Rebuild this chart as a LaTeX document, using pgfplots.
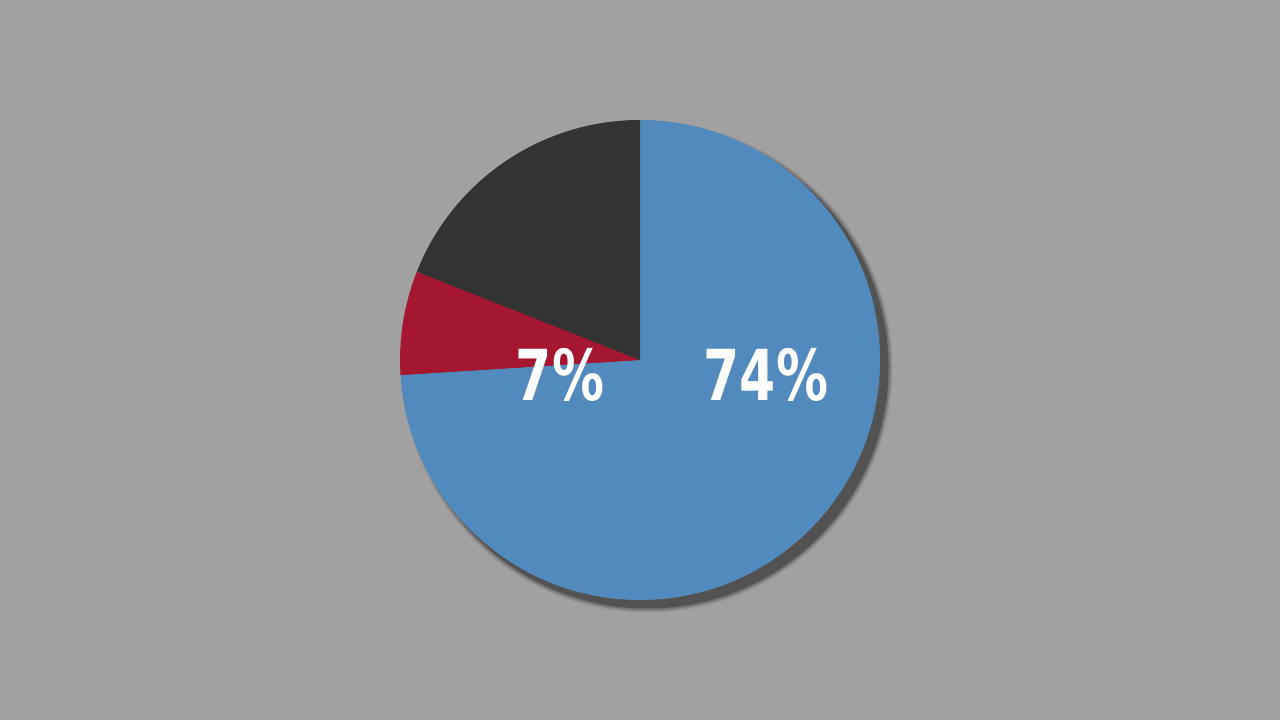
\documentclass[border=0pt]{standalone}
\usepackage{pgfplots}
\pgfplotsset{compat=1.18}
\usepackage{fontspec}
\setmainfont{DejaVu Sans}
\newfontfamily\labelfont[FakeStretch=0.74]{DejaVu Sans}

\definecolor{bggray}{RGB}{161,161,161}
\definecolor{pieblue}{RGB}{83,138,189}
\definecolor{piered}{RGB}{165,22,48}
\definecolor{piedark}{RGB}{51,51,51}
\definecolor{shadowgray}{RGB}{82,82,82}

\begin{document}
\begin{tikzpicture}
% canvas, 1px = 0.01cm
\fill[bggray] (0,0) rectangle (12.8,7.2);
\useasboundingbox (0,0) rectangle (12.8,7.2);

\begin{axis}[
    at={(6.4cm,3.6cm)}, anchor=center,
    x=2.4cm, y=2.4cm,
    xmin=-1, xmax=1, ymin=-1, ymax=1,
    hide axis, clip=false,
]
% drop shadow, offset to the lower right
\fill[shadowgray, opacity=0.2] (axis cs:0,0) ++(0.075cm,-0.075cm) circle[radius=2.45cm];
\fill[shadowgray, opacity=0.45] (axis cs:0,0) ++(0.075cm,-0.075cm) circle[radius=2.43cm];
\fill[shadowgray] (axis cs:0,0) ++(0.075cm,-0.075cm) circle[radius=2.41cm];

% sectors: cumulative start / share / colour, clockwise from the top
\foreach \s/\v/\c in {0/74/pieblue, 74/7/piered, 81/19/piedark} {
    \pgfmathsetmacro\aone{90-3.6*\s}
    \pgfmathsetmacro\atwo{90-3.6*(\s+\v)}
    \edef\temp{\noexpand\fill[\c] (axis cs:0,0) -- ++(\aone:2.4cm)
        arc[start angle=\aone, end angle=\atwo, radius=2.4cm] -- cycle;}
    \temp
}

\node[text=white, font=\labelfont\bfseries\fontsize{20}{20}\selectfont]
    at (axis cs:-0.333,-0.062) {7\%};
\node[text=white, font=\labelfont\bfseries\fontsize{20}{20}\selectfont]
    at (axis cs:0.525,-0.062) {74\%};
\end{axis}
\end{tikzpicture}
\end{document}
